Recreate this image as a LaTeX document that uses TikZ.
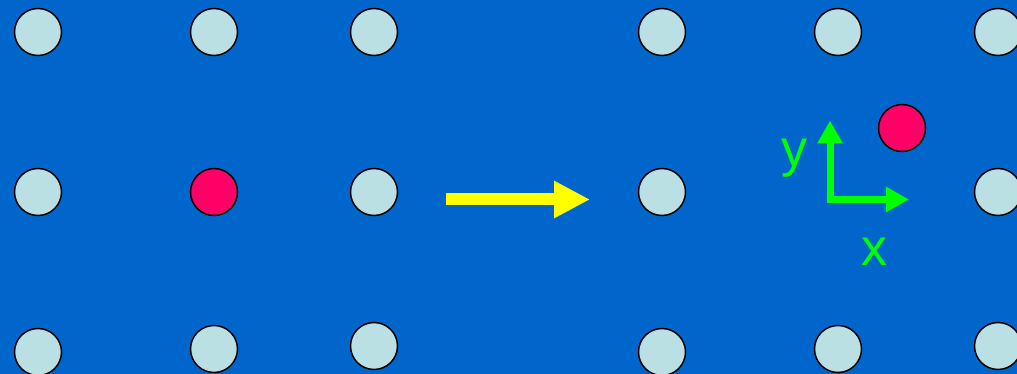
\documentclass[tikz,border=0pt]{standalone}
\usepackage{fontspec}
\setmainfont{Liberation Sans}
\usetikzlibrary{arrows.meta}
\definecolor{bg}{HTML}{0066CC}
\definecolor{atom}{HTML}{BBE0E3}
\definecolor{defect}{HTML}{FF0066}
\definecolor{axisgreen}{HTML}{00FF00}
\definecolor{arrowyellow}{HTML}{FFFF00}
\tikzset{
  atomdot/.style={circle, draw=black, line width=1.5pt, fill=atom, minimum size=47pt, inner sep=0pt},
  defectdot/.style={atomdot, fill=defect},
  axislabel/.style={text=axisgreen, font=\fontsize{52}{52}\selectfont, anchor=base, inner sep=0pt},
}
\begin{document}
\begin{tikzpicture}[x=1pt,y=-1pt]
\useasboundingbox (0,0) rectangle (1017,374);
\fill[bg] (0,0) rectangle (1017,374);
\clip (0,0) rectangle (1017,374);
% left lattice
\node[atomdot] (l11) at (38,32) {};
\node[atomdot] (l12) at (214,32) {};
\node[atomdot] (l13) at (374,32) {};
\node[atomdot] (l21) at (38,192) {};
\node[defectdot] (l22) at (214,192) {};
\node[atomdot] (l23) at (374,192) {};
\node[atomdot] (l31) at (38,352) {};
\node[atomdot] (l32) at (214,349) {};
\node[atomdot] (l33) at (374,346) {};
% right lattice
\node[atomdot] (r11) at (662,32) {};
\node[atomdot] (r12) at (838,32) {};
\node[atomdot] (r13) at (998,32) {};
\node[atomdot] (r21) at (662,192) {};
\node[defectdot] (r22) at (902,128) {};
\node[atomdot] (r23) at (998,192) {};
\node[atomdot] (r31) at (662,352) {};
\node[atomdot] (r32) at (838,349) {};
\node[atomdot] (r33) at (998,346) {};
% transition arrow
\coordinate (as) at (446,199.5);
\coordinate (ae) at (590,199.5);
\draw[arrowyellow, line width=12pt, -{Triangle[length=36pt,width=35pt]}] (as) -- (ae);
% axes
\coordinate (ytip) at (830,120.5);
\coordinate (orig) at (830,199.5);
\coordinate (xtip) at (909,199.5);
\draw[axisgreen, line width=7pt, line join=miter, {Triangle[length=23pt,width=24pt]}-{Triangle[length=23pt,width=24pt]}] (ytip) -- (orig) -- (xtip);
\node[axislabel] (ylab) at (794,167) {y};
\node[axislabel] (xlab) at (874,265) {x};
\end{tikzpicture}
\end{document}
